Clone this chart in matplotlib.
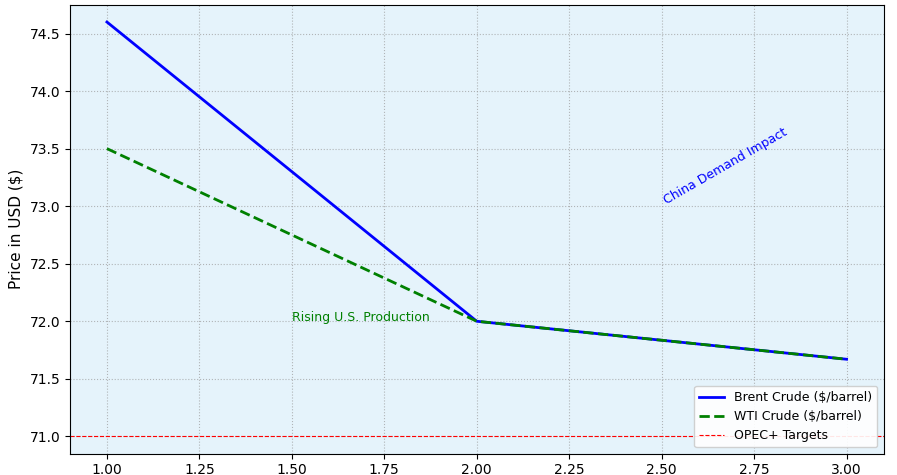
import matplotlib.pyplot as plt

x = [1, 2, 3]
brent = [74.6, 72.0, 71.67]
wti = [73.5, 72.0, 71.67]
opec_target = 71.0


def main():
    fig = plt.figure(figsize=(8.97, 4.75), dpi=100)
    ax = fig.add_axes([0.078, 0.045, 0.907, 0.945])
    ax.set_facecolor('#e5f3fb')
    ax.plot(x, brent, color='blue', lw=2, label='Brent Crude ($/barrel)')
    ax.plot(x, wti, color='green', lw=2, ls='--', label='WTI Crude ($/barrel)')
    ax.axhline(opec_target, color='red', lw=0.8, ls='--', label='OPEC+ Targets')
    ax.text(1.5, 72.0, 'Rising U.S. Production', color='green', fontsize=9)
    ax.text(2.5, 73.02, 'China Demand Impact', color='blue', fontsize=9, rotation=30)
    ax.set_xlim(0.9, 3.1)
    ax.set_ylim(70.85, 74.75)
    ax.set_ylabel('Price in USD ($)', fontsize=11)
    ax.set_title('Oil Price Trends: Key Impacts on Brent and WTI Crude', fontsize=13, pad=12)
    ax.grid(True, ls=':', color='#9a9a9a', alpha=0.7)
    ax.tick_params(labelsize=10)
    ax.legend(loc='lower right', fontsize=9, framealpha=0.9)
    fig.savefig('out.png')


if __name__ == '__main__':
    main()
